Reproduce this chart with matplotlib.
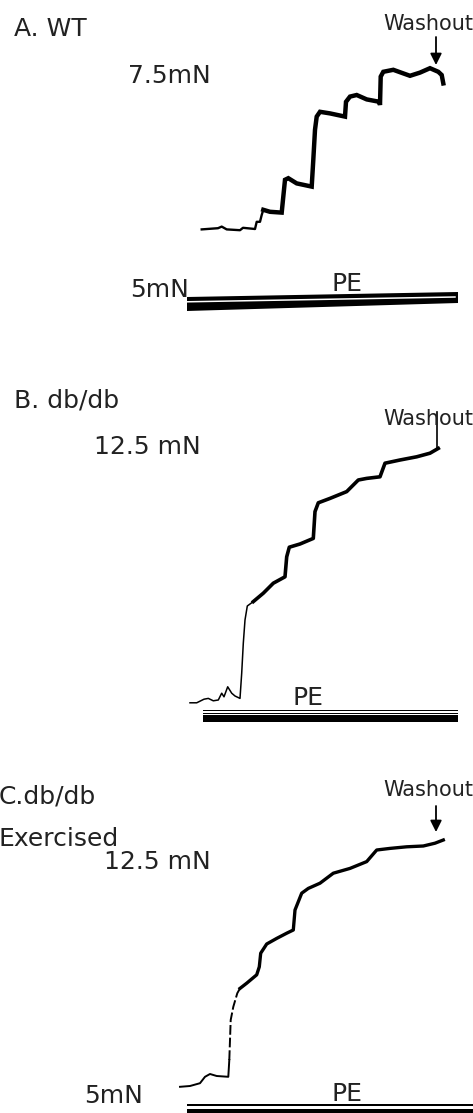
"""Isometric force traces: PE concentration steps in WT, db/db and exercised db/db."""

import matplotlib

matplotlib.use("Agg")
import matplotlib.pyplot as plt

W, H = 473, 1113

# time (min) and force above baseline (mN)
wt_time = [2.17, 3.8, 4.17, 4.67, 6.0, 6.3, 7.5, 7.67, 8.0, 8.17, 8.33, 9.0,
           10.17, 10.33, 10.5, 10.83, 11.67, 13.17, 13.33, 13.5, 13.67, 14.0,
           15.0, 16.5, 16.6, 17.0, 17.67, 18.67, 19.93, 20.0, 20.07, 20.33,
           21.33, 22.33, 23.0, 24.0, 25.0, 25.83, 26.17, 26.33]
wt_force = [-0.01, 0.02, 0.06, -0.01, -0.03, 0.03, 0.0, 0.18, 0.18, 0.35, 0.48,
            0.43, 0.41, 0.81, 1.23, 1.27, 1.14, 1.06, 1.73, 2.48, 2.81, 2.93,
            2.89, 2.81, 3.18, 3.31, 3.35, 3.24, 3.18, 3.10, 3.81, 3.93, 3.98,
            3.89, 3.83, 3.91, 4.02, 3.93, 3.85, 3.64]

db_time = [1.0, 1.67, 2.4, 2.83, 3.33, 3.83, 4.17, 4.4, 4.77, 5.17, 5.5, 6.0,
           6.17, 6.33, 6.5, 6.73, 7.33, 8.33, 9.33, 10.5, 10.67, 10.93, 12.0,
           13.33, 13.5, 13.83, 15.0, 16.67, 17.83, 18.67, 20.0, 20.5, 22.0,
           23.67, 25.0, 25.83]
db_force = [-0.12, -0.12, -0.03, -0.01, -0.07, -0.05, 0.12, 0.03, 0.28, 0.12,
            0.05, -0.01, 0.62, 1.37, 1.95, 2.30, 2.41, 2.62, 2.87, 3.03, 3.53,
            3.77, 3.85, 3.99, 4.66, 4.88, 4.99, 5.16, 5.45, 5.49, 5.53, 5.87,
            5.95, 6.03, 6.12, 6.24]

ex_time = [0.0, 1.0, 2.0, 2.5, 3.0, 3.67, 4.83, 4.93, 5.0, 5.07, 5.33, 5.73,
           6.0, 6.67, 7.67, 7.93, 8.07, 8.67, 9.67, 10.67, 11.33, 11.5, 12.17,
           12.83, 14.0, 15.33, 17.0, 18.67, 19.67, 21.0, 22.67, 24.33, 25.5,
           26.33]
ex_force = [-0.02, 0.0, 0.07, 0.23, 0.30, 0.25, 0.23, 0.65, 1.15, 1.65, 1.98,
            2.32, 2.44, 2.57, 2.78, 2.98, 3.32, 3.55, 3.69, 3.82, 3.90, 4.40,
            4.82, 4.94, 5.07, 5.32, 5.44, 5.61, 5.90, 5.94, 5.98, 6.00, 6.07,
            6.15]

washout_time = [25.6, 25.7, 25.6]
pe_start = [0.7, 2.3, 0.7]
pe_end = [27.8, 27.8, 29.5]

plt.rcParams["font.family"] = ["DejaVu Sans"]
TXT = "#222222"

fig = plt.figure(figsize=(W / 100, H / 100), dpi=100)
fig.patch.set_facecolor("white")


def panel(top_px, bottom_px, base_px):
    """Axes spanning a horizontal band; 10 px per min, 40 px per mN."""
    ax = fig.add_axes([0, 1 - bottom_px / H, 1, (bottom_px - top_px) / H])
    ax.set_xlim(-18, (W - 180) / 10)
    ax.set_ylim((base_px - bottom_px) / 40, (base_px - top_px) / 40)
    ax.set_axis_off()
    return ax


def label(x_px, y_px, s, size=18):
    fig.text(x_px / W, 1 - y_px / H, s, fontsize=size, color=TXT,
             ha="left", va="baseline")


def washout_arrow(ax, t, f_tip, f_tail):
    ax.annotate("", xy=(t, f_tip), xytext=(t, f_tail),
                arrowprops=dict(arrowstyle="-|>", color="black", lw=1.3,
                                mutation_scale=17, shrinkA=0, shrinkB=0))


# ---- A. WT
ax = panel(0, 360, 229)
ax.plot(wt_time[:11], wt_force[:11], color="black", lw=1.7)
ax.plot(wt_time[10:], wt_force[10:], color="black", lw=3.2,
        solid_joinstyle="miter")
washout_arrow(ax, washout_time[0], 4.1, 4.8)
ax.fill([pe_start[0], pe_end[0], pe_end[0], pe_start[0]],
        [-1.70, -1.575, -1.85, -2.05], color="black", lw=0)
ax.plot([pe_start[0], pe_end[0] - 0.3], [-1.82, -1.70], color="white", lw=1.1)
label(14, 36, "A. WT")
label(128, 83, "7.5mN")
label(383, 30, "Washout", 15)
label(130, 297, "5mN")
label(332, 291, "PE")

# ---- B. db/db
ax = panel(360, 740, 698)
ax.plot(db_time[:17], db_force[:17], color="black", lw=1.1)
ax.plot(db_time[16:], db_force[16:], color="black", lw=2.6)
ax.plot([washout_time[1]] * 2, [6.25, 7.15], color="black", lw=1.2)
ax.fill_between([pe_start[1], pe_end[1]], -0.335, -0.30, color="black", lw=0)
ax.fill_between([pe_start[1], pe_end[1]], -0.40, -0.37, color="black", lw=0)
ax.fill_between([pe_start[1], pe_end[1]], -0.61, -0.425, color="black", lw=0)
label(14, 407, "B. db/db")
label(94, 454, "12.5 mN")
label(383, 425, "Washout", 15)
label(292, 705, "PE")

# ---- C. db/db exercised
ax = panel(740, 1113, 1086)
ax.plot(ex_time[:8], ex_force[:8], color="black", lw=1.4)
ax.plot(ex_time[7:13], ex_force[7:13], color="black", lw=1.4, dashes=(5, 1.5))
ax.plot(ex_time[12:], ex_force[12:], color="black", lw=2.4)
washout_arrow(ax, washout_time[2], 6.35, 7.0)
ax.fill_between([pe_start[2], pe_end[2]], -0.50, -0.45, color="black", lw=0)
ax.fill_between([pe_start[2], pe_end[2]], -0.70, -0.58, color="black", lw=0)
label(-1, 803, "C.db/db")
label(-1, 846, "Exercised")
label(104, 869, "12.5 mN")
label(383, 796, "Washout", 15)
label(84, 1103, "5mN")
label(332, 1101, "PE")

fig.savefig("out.png", dpi=100, facecolor="white")
